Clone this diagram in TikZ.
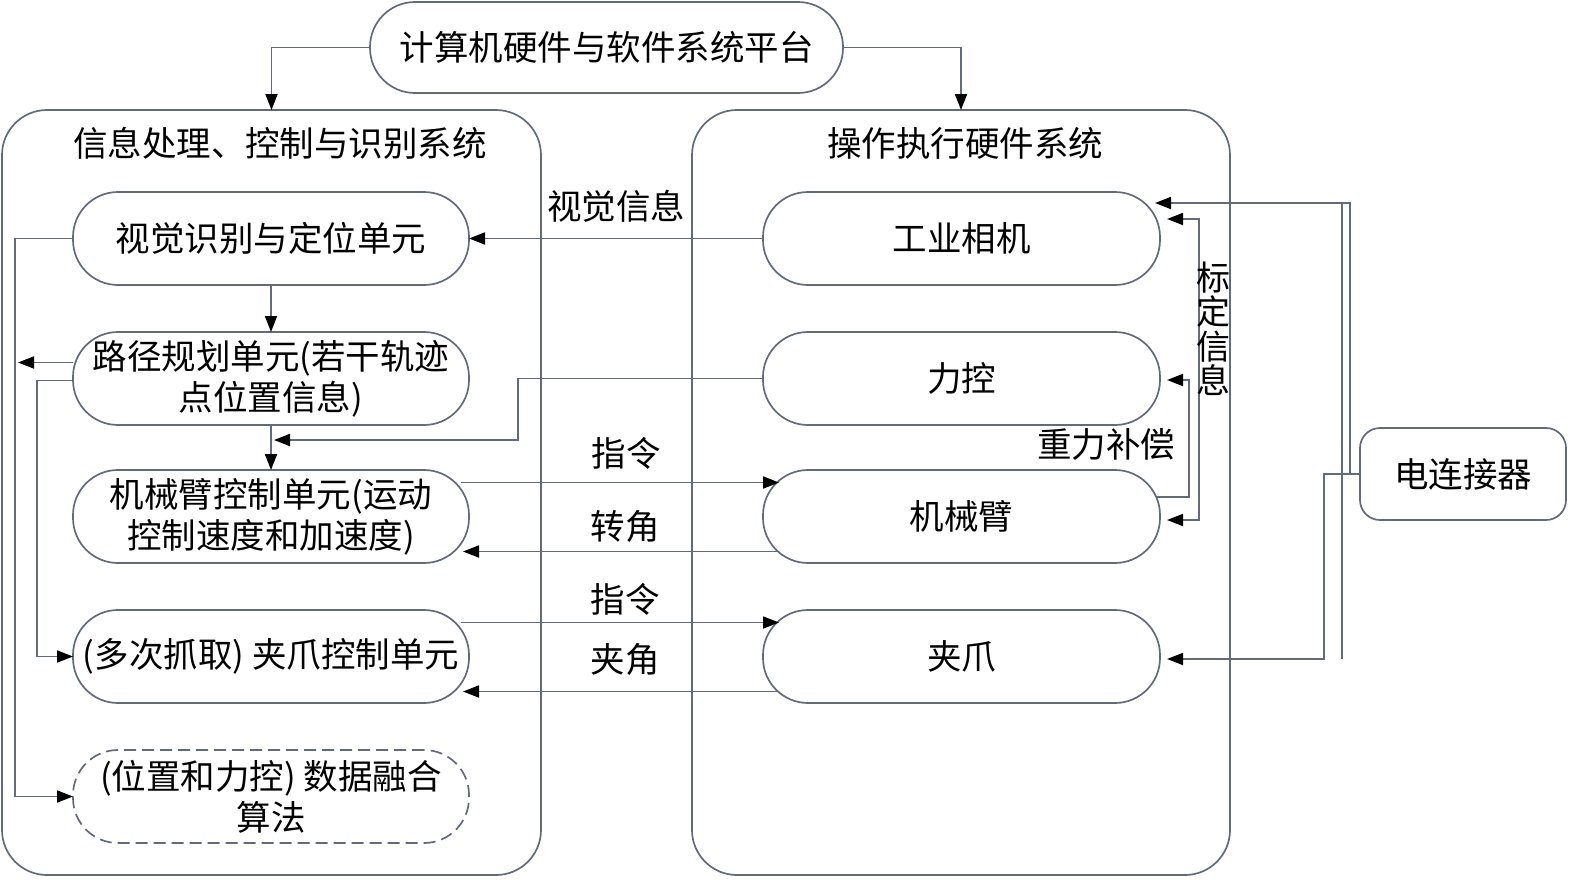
\documentclass[tikz,border=0pt]{standalone}
\usepackage{fontspec}
\setmainfont{Noto Sans CJK SC}
\usetikzlibrary{arrows.meta,calc}
\definecolor{ln}{HTML}{636A78}
\newcommand\dtxt{\fontsize{34.5}{41}\selectfont}
\begin{document}
\begin{tikzpicture}[x=1pt,y=-1pt,
  box/.style={draw=ln,line width=1.7pt,rounded corners=45pt,minimum height=93pt,minimum width=396pt,inner sep=0pt,outer sep=0pt,align=center,font=\dtxt},
  bigbox/.style={draw=ln,line width=1.7pt,rounded corners=45pt,inner sep=0pt,outer sep=0pt},
  lbl/.style={inner sep=0pt,font=\dtxt},
  con/.style={draw=ln,line width=1.8pt},
  arr/.style={con,-{Triangle[length=16pt,width=12pt,color=black]}},
  arrb/.style={con,{Triangle[length=16pt,width=12pt,color=black]}-{Triangle[length=16pt,width=12pt,color=black]}}]
\useasboundingbox (0,0) rectangle (1575,879);
% top node
\node[box,minimum width=473pt,minimum height=91pt] (top) at (606.5,47.5) {计算机硬件与软件系统平台};
% big boxes
\node[bigbox,minimum width=539pt,minimum height=765pt] (L) at (271.5,492.5) {};
\node[bigbox,minimum width=538pt,minimum height=765pt] (R) at (961,492.5) {};
\node[lbl] (Lt) at (280,143) {信息处理、控制与识别系统};
\node[lbl] (Rt) at (965,143) {操作执行硬件系统};
% left nodes
\node[box] (vis) at (271,238.5) {视觉识别与定位单元};
\node[box] (path) at (271,378.5) {路径规划单元(若干轨迹\\点位置信息)};
\node[box] (armc) at (271,516.5) {机械臂控制单元(运动\\控制速度和加速度)};
\node[box] (gripc) at (271,656.5) {(多次抓取) 夹爪控制单元};
\node[box,dashed,dash pattern=on 12pt off 6pt] (fus) at (271,796.5) {(位置和力控) 数据融合\\算法};
% right nodes
\node[box,minimum width=397pt] (cam) at (961.5,238.5) {工业相机};
\node[box,minimum width=397pt] (force) at (961.5,378.5) {力控};
\node[box,minimum width=397pt] (arm) at (961.5,516.5) {机械臂};
\node[box,minimum width=397pt] (grip) at (961.5,656.5) {夹爪};
\node[box,minimum width=206pt,minimum height=92pt,rounded corners=20pt] (elec) at (1463,474) {电连接器};
% top arrows
\draw[arr] (top.west) -| (L.north);
\draw[arr] (top.east) -| (R.north);
% left column
\draw[arr] (cam.west) -- (vis.east);
\node[lbl] (l1) at (616,206) {视觉信息};
\draw[arr] (vis.south) -- (path.north);
\draw[arr] (path.south) -- (armc.north);
\coordinate (fj) at (274,440);
\draw[arr] (force.west) -| (518,440) -- (fj);
\draw[arr] (vis.west) -- ++(-58,0) |- (fus.west);
\draw[arr] ([yshift=16pt]path.west) -- ++(-55,0);
\draw[arr] ([yshift=-2pt]path.west) -- ++(-36,0) |- (gripc.west);
% commands
\draw[arr] ([xshift=-8pt,yshift=34pt]armc.east) -- ([xshift=16pt,yshift=34pt]arm.west);
\draw[arr] ([xshift=16pt,yshift=-35pt]arm.west) -- ([xshift=-6pt,yshift=-35pt]armc.east);
\draw[arr] ([xshift=-8pt,yshift=34pt]gripc.east) -- ([xshift=16pt,yshift=34pt]grip.west);
\draw[arr] ([xshift=16pt,yshift=-35pt]grip.west) -- ([xshift=-6pt,yshift=-35pt]gripc.east);
\node[lbl] (c1) at (626,453) {指令};
\node[lbl] (c2) at (625,526) {转角};
\node[lbl] (c3) at (625,599) {指令};
\node[lbl] (c4) at (625,659) {夹角};
% right side
\draw[arrb] ([xshift=7pt,yshift=19.5pt]cam.east) -- ++(32,0) |- ([xshift=7pt,yshift=-3.5pt]arm.east);
\node[lbl,align=center,font=\fontsize{34}{34.5}\selectfont] (cal) at (1213,329) {标\\定\\信\\息};
\draw[arr] ([xshift=-4pt,yshift=19.5pt]arm.east) -- ++(33,0) |- ([xshift=7pt,yshift=-1.5pt]force.east);
\node[lbl] (gc) at (1106,444) {重力补偿};
\draw[arr] (elec.west) -- ++(-10,0) |- ([xshift=-5pt,yshift=35.5pt]cam.east);
\draw[arr] (elec.west) -- ++(-36,0) |- ([xshift=7pt,yshift=-2.5pt]grip.east);
\coordinate (d1) at (1342,203);
\coordinate (d2) at (1342,659);
\draw[con] (d1) -- (d2);
\end{tikzpicture}
\end{document}
